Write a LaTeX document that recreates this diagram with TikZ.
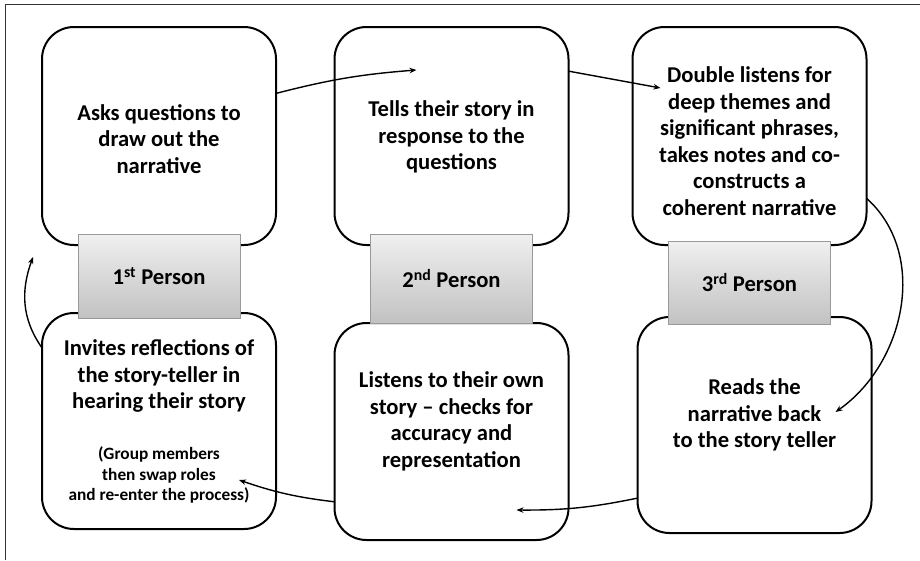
\documentclass[tikz,border=0pt]{standalone}
\usepackage{fontspec}
\setmainfont{Carlito}
\usetikzlibrary{positioning,arrows.meta}

\newcommand\boxfont{\fontsize{22.6}{26.5}\selectfont\bfseries}
\newcommand\notefont{\fontsize{17.3}{20.8}\selectfont\bfseries}

\tikzset{
  stage/.style={draw, line width=2pt, rounded corners=32pt,
    minimum width=234pt, minimum height=218pt, outer sep=0pt},
  role/.style={draw=black!40, top color=black!6, bottom color=black!24,
    minimum width=162pt, minimum height=84pt, font=\boxfont, outer sep=0pt},
  say/.style={align=center, font=\boxfont},
  aside/.style={align=center, font=\notefont},
  flow/.style={line width=1.4pt, -{Stealth[length=7pt,width=5.5pt]}}
}

\begin{document}
\begin{tikzpicture}[x=1pt,y=1pt]
	\useasboundingbox (0,0) rectangle (920,-560);
	% frame
	\draw[black!80, line width=1pt] (920,-4.5) -| (5.5,-560);

	% top row
	\node[stage] (ask) at (159,-136) {};
	\node[stage, right=58.5pt of ask] (tell) {};
	\node[stage, right=64pt of tell] (listen) {};
	% bottom row
	\node[stage, minimum height=216pt, below=68pt of ask] (invite) {};
	\node[stage, minimum height=217pt, below=78pt of tell] (check) {};
	\node[stage, minimum height=216pt, below=72pt of listen, xshift=5pt] (read) {};

	% roles
	\node[role, below=-11pt of ask] (p1) {1\textsuperscript{st} Person};
	\node[role, minimum height=89pt, below=-11pt of tell] (p2) {2\textsuperscript{nd} Person};
	\node[role, minimum height=83pt, below=-4pt of listen] (p3) {3\textsuperscript{rd} Person};

	% texts
	\node[say] (askT) at ([yshift=-3pt]ask.center) {Asks questions to\\draw out the\\narrative};
	\node[say] (tellT) at ([yshift=-1pt]tell.center) {Tells their story in\\response to the\\questions};
	\node[say] (listenT) at ([yshift=-5pt]listen.center) {Double listens for\\deep themes and\\significant phrases,\\takes notes and co-\\constructs a\\coherent narrative};
	\node[say] (inviteT) at ([yshift=45pt]invite.center) {Invites reflections of\\the story-teller in\\hearing their story};
	\node[aside] (swapT) at ([yshift=-54pt]invite.center) {(Group members\\then swap roles\\and re-enter the process)};
	\node[say] (checkT) at ([yshift=10pt]check.center) {Listens to their own\\story – checks for\\accuracy and\\representation};
	\node[say] (readT) at ([yshift=10pt]read.center) {Reads the\\narrative back\\to the story teller};

	% arrow ends
	\coordinate (tellIn) at ([shift={(-35,66)}]tell.center);
	\coordinate (listenIn) at ([shift={(-89,48)}]listen.center);
	\coordinate (readIn) at ([shift={(81,13)}]read.center);
	\coordinate (checkIn) at ([shift={(65,-78.5)}]check.center);
	\coordinate (inviteIn) at ([shift={(80,-59)}]invite.center);
	\coordinate (p1Up) at ([shift={(-45,19)}]p1.west);

	\draw[flow] (ask.20) to[bend left=5] (tellIn);
	\draw[flow] (tell.29) -- (listenIn);
	\draw[flow] (listen.-28) to[out=-42,in=35] (readIn);
	\draw[flow] (read.212) to[bend left=6] (checkIn);
	\draw[flow] (check.211) to[bend left=6] (inviteIn);
	\draw[flow] (invite.148) to[out=125,in=-110] (p1Up);
\end{tikzpicture}
\end{document}
